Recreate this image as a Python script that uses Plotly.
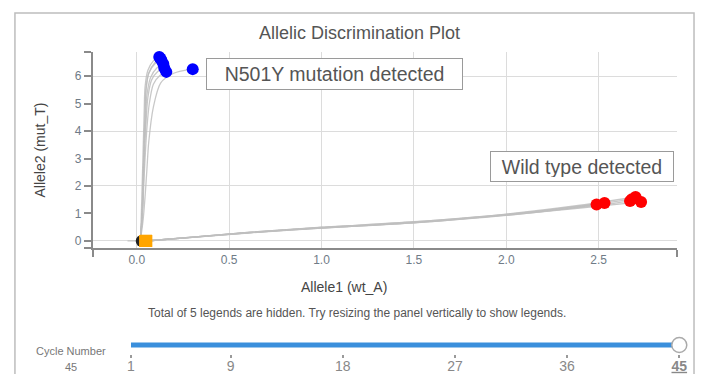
import plotly.graph_objects as go

PAGE_OFF = 8           # default body margin of the page
W, H = 711 - 2 * PAGE_OFF, 382 - 2 * PAGE_OFF   # fits the page: no scrollbars

# ---------------- data ----------------
# amplification trajectories ending in the mutant (Allele2) cluster
mut_paths_x = [
    [0.02, 0.025, 0.03, 0.035, 0.04, 0.045, 0.06, 0.09, 0.122],
    [0.02, 0.03, 0.035, 0.04, 0.045, 0.05, 0.065, 0.10, 0.128],
    [0.02, 0.03, 0.035, 0.04, 0.045, 0.05, 0.065, 0.10, 0.133],
    [0.02, 0.03, 0.035, 0.04, 0.048, 0.055, 0.075, 0.11, 0.144],
    [0.02, 0.03, 0.036, 0.042, 0.05, 0.06, 0.08, 0.115, 0.149],
    [0.02, 0.03, 0.037, 0.045, 0.055, 0.068, 0.09, 0.125, 0.16],
    [0.02, 0.035, 0.045, 0.055, 0.065, 0.09, 0.13, 0.20, 0.303],
]
mut_paths_y = [
    [0.0, 1.0, 2.2, 3.4, 4.6, 5.6, 6.2, 6.55, 6.69],
    [0.0, 1.1, 2.3, 3.5, 4.6, 5.5, 6.1, 6.5, 6.64],
    [0.0, 1.1, 2.3, 3.5, 4.6, 5.5, 6.1, 6.45, 6.58],
    [0.0, 1.0, 2.1, 3.3, 4.4, 5.3, 5.95, 6.3, 6.44],
    [0.0, 0.9, 2.0, 3.2, 4.3, 5.2, 5.85, 6.17, 6.29],
    [0.0, 0.9, 1.9, 3.0, 4.1, 5.0, 5.7, 6.02, 6.15],
    [0.0, 0.8, 1.6, 2.6, 3.6, 4.87, 5.75, 6.1, 6.25],
]
# trajectories ending in the wild-type (Allele1) cluster
wt_paths_x = [
    [0.05, 0.3, 0.6, 1.0, 1.5, 2.0, 2.3, 2.489],
    [0.05, 0.3, 0.6, 1.0, 1.5, 2.0, 2.3, 2.532],
    [0.05, 0.3, 0.6, 1.0, 1.5, 2.0, 2.4, 2.67],
    [0.05, 0.3, 0.6, 1.0, 1.5, 2.0, 2.4, 2.70],
    [0.05, 0.3, 0.6, 1.0, 1.5, 2.0, 2.4, 2.73],
    [0.05, 0.3, 0.6, 1.0, 1.5, 2.0, 2.4, 2.68],
]
wt_paths_y = [
    [0.0, 0.13, 0.30, 0.47, 0.66, 0.93, 1.15, 1.33],
    [0.0, 0.14, 0.31, 0.49, 0.68, 0.96, 1.19, 1.38],
    [0.0, 0.13, 0.30, 0.48, 0.67, 0.95, 1.22, 1.45],
    [0.0, 0.14, 0.31, 0.50, 0.70, 0.98, 1.30, 1.60],
    [0.0, 0.13, 0.29, 0.47, 0.66, 0.94, 1.20, 1.42],
    [0.0, 0.14, 0.30, 0.49, 0.69, 0.97, 1.26, 1.52],
]
# no-template control drift
ntc_path_x = [-0.05, -0.01, 0.03]
ntc_path_y = [0.005, 0.003, 0.0]

undetermined_x = [0.027]
undetermined_y = [0.0]
ntc_x = [0.045, 0.05, 0.052]
ntc_y = [0.0, 0.01, 0.0]

mut_x = [p[-1] for p in mut_paths_x]
mut_y = [p[-1] for p in mut_paths_y]
wt_x = [p[-1] for p in wt_paths_x]
wt_y = [p[-1] for p in wt_paths_y]

x_ticks = [0.0, 0.5, 1.0, 1.5, 2.0, 2.5]
y_ticks = [0, 1, 2, 3, 4, 5, 6]
y_grid = [0, 2, 4, 6]
x_range = [-0.239, 2.926]
y_range = [-0.255, 6.873]

cycle_ticks = [1, 9, 18, 27, 36, 45]
cycle_current = 45
cycle_range = [1, 45]

# ---------------- helpers: page pixel -> paper fraction ----------------
def px(x):
    return (x - PAGE_OFF) / W

def py(y):
    return 1 - (y - PAGE_OFF) / H

GRAY_TXT = "#555555"
TICK_TXT = "#6f7b87"
FONT = "Liberation Sans"

fig = go.Figure()

curve_style = dict(color="rgba(190,190,190,0.85)", width=1.3, shape="spline", smoothing=0.8)
for xs, ys in zip(mut_paths_x, mut_paths_y):
    fig.add_trace(go.Scatter(x=xs, y=ys, mode="lines", line=curve_style, hoverinfo="skip"))
for xs, ys in zip(wt_paths_x, wt_paths_y):
    fig.add_trace(go.Scatter(x=xs, y=ys, mode="lines", line=curve_style, hoverinfo="skip"))
fig.add_trace(go.Scatter(x=ntc_path_x, y=ntc_path_y, mode="lines", line=curve_style, hoverinfo="skip"))

fig.add_trace(go.Scatter(x=undetermined_x, y=undetermined_y, mode="markers",
                         marker=dict(color="#222222", size=12, symbol="circle"), cliponaxis=False))
fig.add_trace(go.Scatter(x=ntc_x, y=ntc_y, mode="markers",
                         marker=dict(color="#ffa500", size=12, symbol="square"), cliponaxis=False))
fig.add_trace(go.Scatter(x=mut_x, y=mut_y, mode="markers",
                         marker=dict(color="#0000ff", size=12), cliponaxis=False))
fig.add_trace(go.Scatter(x=wt_x, y=wt_y, mode="markers",
                         marker=dict(color="#ff0000", size=12), cliponaxis=False))

# slider drawn as a small second subplot
fig.add_trace(go.Scatter(x=cycle_range, y=[0.5, 0.5], mode="lines", xaxis="x2", yaxis="y2",
                         line=dict(color="#3a8fdc", width=5), hoverinfo="skip", cliponaxis=False))
fig.add_trace(go.Scatter(x=[cycle_current], y=[0.5], mode="markers", xaxis="x2", yaxis="y2",
                         marker=dict(color="white", size=15, line=dict(color="#aaaaaa", width=1.5)),
                         cliponaxis=False, hoverinfo="skip"))

fig.update_layout(
    width=W, height=H, autosize=False,
    margin=dict(l=0, r=0, t=0, b=0, pad=0),
    paper_bgcolor="white", plot_bgcolor="white",
    showlegend=False,
    font=dict(family=FONT, color=GRAY_TXT),
    xaxis=dict(
        domain=[px(90), px(685)], range=x_range, anchor="y",
        tickmode="array", tickvals=x_ticks, ticktext=[f"{v:.1f}" for v in x_ticks],
        ticks="", showgrid=True, gridcolor="#dcdcdc", gridwidth=1,
        showline=True, linecolor="#8a8a8a", linewidth=1.5, zeroline=False,
        tickfont=dict(size=12, color=TICK_TXT),
        minor=dict(tickmode="array", tickvals=x_range, ticks="outside", ticklen=7,
                   tickcolor="#8a8a8a", tickwidth=1.5, showgrid=False),
    ),
    yaxis=dict(
        domain=[py(248), py(52)], range=y_range, anchor="x",
        tickmode="array", tickvals=[y_range[0]] + y_ticks + [y_range[1]],
        ticktext=[""] + [str(v) for v in y_ticks] + [""],
        ticks="outside", ticklen=7, tickcolor="#8a8a8a", tickwidth=1.5,
        showgrid=False, showline=True, linecolor="#8a8a8a", linewidth=1.5, zeroline=False,
        tickfont=dict(size=12, color=TICK_TXT),
        minor=dict(tickmode="array", tickvals=y_grid, ticks="", showgrid=True,
                   gridcolor="#dcdcdc", gridwidth=1),
    ),
    xaxis2=dict(
        domain=[px(129), px(687)], range=cycle_range, anchor="y2",
        tickmode="array", tickvals=cycle_ticks,
        ticktext=[str(v) if v != cycle_current else f"<b><u>{v}</u></b>" for v in cycle_ticks],
        ticks="outside", ticklen=3, tickwidth=1.5, tickcolor="#9a9a9a",
        showgrid=False, showline=False, zeroline=False,
        tickfont=dict(size=14, color="#888888"), ticklabelstandoff=-4,
    ),
    yaxis2=dict(domain=[py(354), py(336)], range=[0, 1], visible=False, anchor="x2"),
)

# outer panel frame
fig.add_shape(type="rect", xref="paper", yref="paper",
              x0=px(11), x1=px(702), y0=py(395), y1=py(13),
              line=dict(color="#bdbdbd", width=1.5), fillcolor="rgba(0,0,0,0)", layer="below")

ann = []
ann.append(dict(text="Allelic Discrimination Plot", x=px(362), y=py(33), font=dict(size=18, color=GRAY_TXT)))
ann.append(dict(text="Allele1 (wt_A)", x=px(346), y=py(287), font=dict(size=14, color="#444444")))
ann.append(dict(text="Allele2 (mut_T)", x=px(37), y=py(150), textangle=-90, font=dict(size=14, color="#444444")))
ann.append(dict(text="Total of 5 legends are hidden. Try resizing the panel vertically to show legends.",
                x=px(359), y=py(313), font=dict(size=12, color=GRAY_TXT)))
ann.append(dict(text="Cycle Number", x=px(68), y=py(351), font=dict(size=11, color="#777777")))
ann.append(dict(text=str(cycle_current), x=px(68), y=py(367), font=dict(size=11, color="#777777")))
for a in ann:
    a.update(xref="paper", yref="paper", showarrow=False, xanchor="center", yanchor="middle")
    fig.add_annotation(**a)

box = dict(xref="paper", yref="paper", showarrow=False, xanchor="center", yanchor="middle",
           bgcolor="white", bordercolor="#9a9a9a", borderwidth=1, borderpad=4,
           font=dict(size=19.5, color=GRAY_TXT))
fig.add_annotation(text="N501Y mutation detected", x=px(336), y=py(74), width=247, height=22, **box)
fig.add_annotation(text="Wild type detected", x=px(588), y=py(166), width=174, height=21, **box)

fig.write_html("out.html")
